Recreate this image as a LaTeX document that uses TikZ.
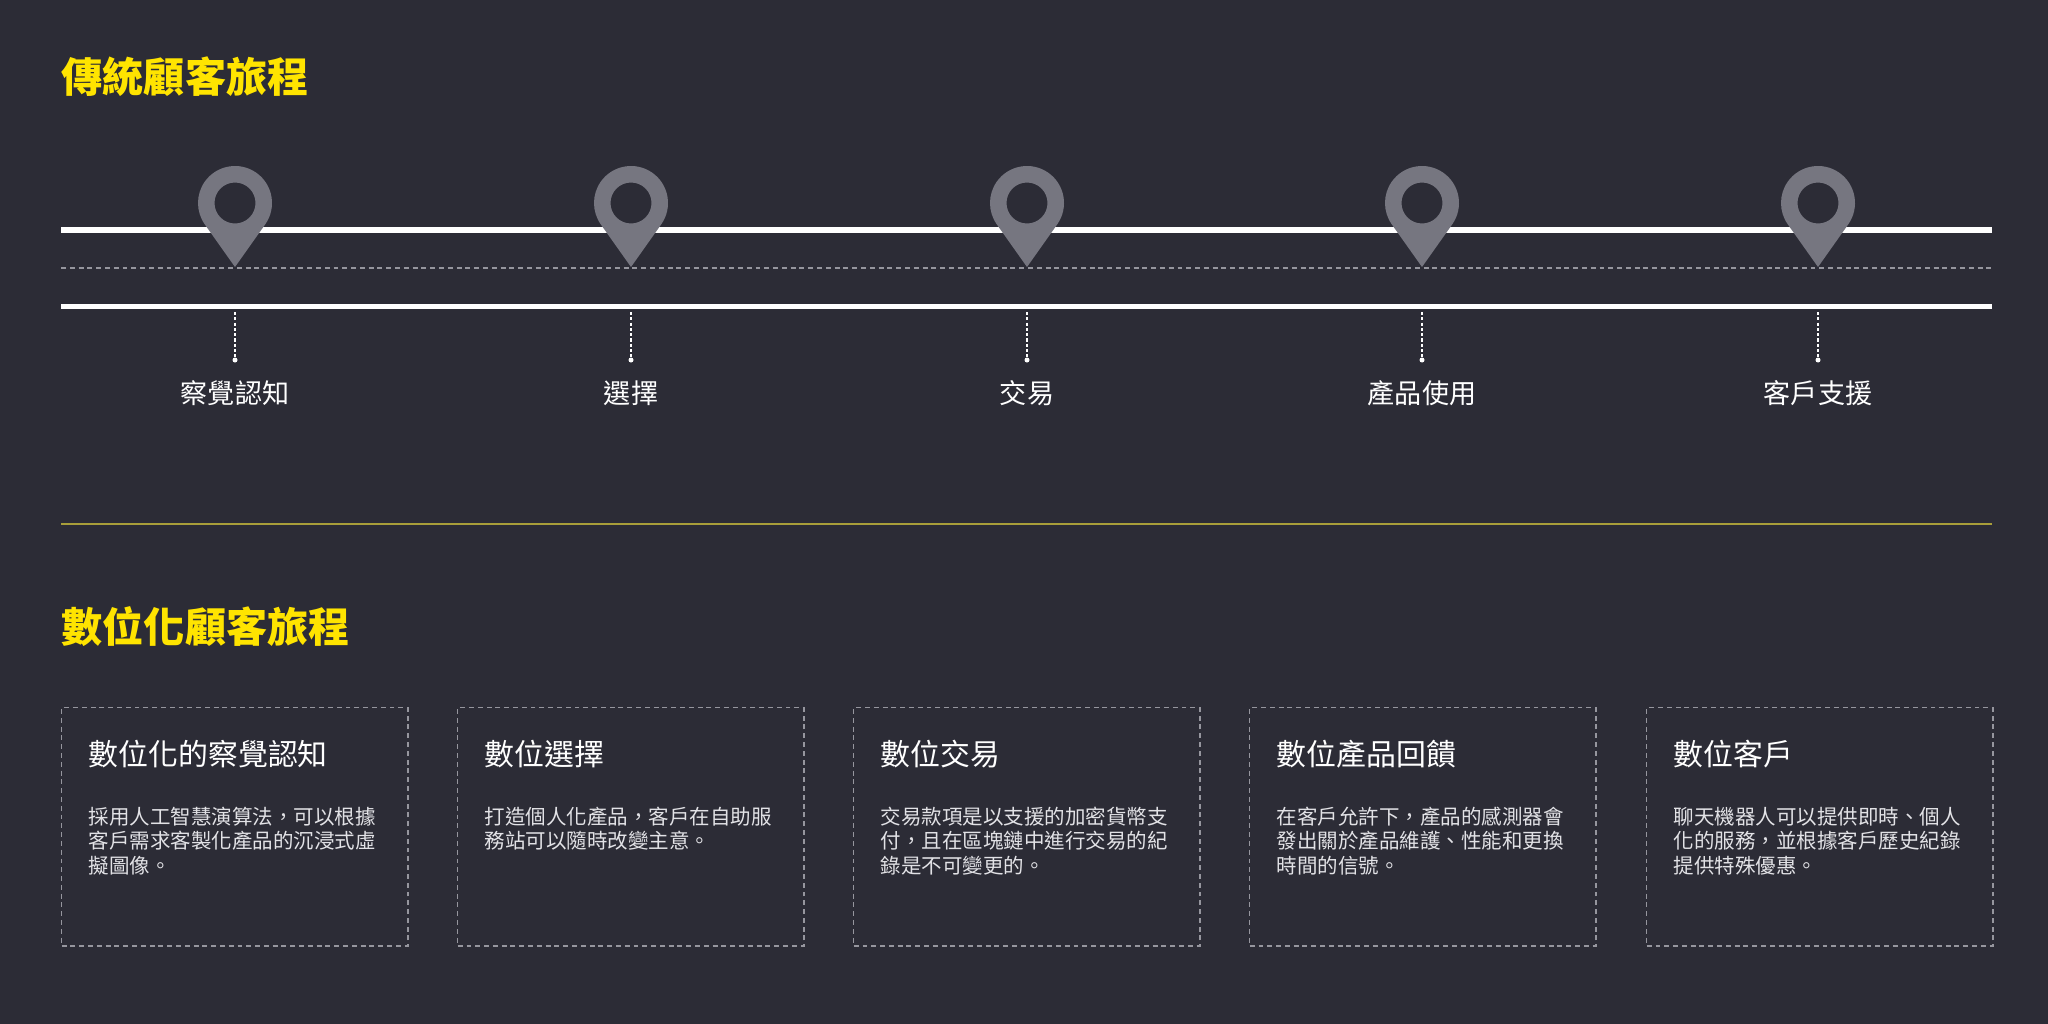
\documentclass[tikz,border=0pt]{standalone}
\usepackage{fontspec}
\setmainfont{Noto Sans CJK TC}
\usetikzlibrary{positioning}

\definecolor{bgdark}{RGB}{44,44,54}
\definecolor{pingray}{RGB}{118,118,128}
\definecolor{titleyellow}{RGB}{255,228,0}
\definecolor{sepolive}{RGB}{168,158,58}
\definecolor{dashgray}{RGB}{150,150,158}
\definecolor{bodygray}{RGB}{226,226,230}

\begin{document}
\begin{tikzpicture}[x=0.01cm, y=-0.01cm,
    title/.style={anchor=base west, inner sep=0pt, text=titleyellow,
      font=\fontsize{11.7}{14}\selectfont\bfseries},
    road/.style={white, line width=1.7pt},
    midline/.style={dashgray, line width=0.45pt, dash pattern=on 1.4pt off 1.1pt},
    stem/.style={white, line width=0.45pt, dash pattern=on 0.9pt off 0.6pt},
    dotmark/.style={circle, fill=white, inner sep=0pt, minimum size=0.05cm},
    stagelabel/.style={anchor=base, inner sep=0pt, text=white,
      font=\fontsize{7.7}{9}\selectfont},
    card/.style={draw=dashgray, line width=0.4pt, dash pattern=on 1.4pt off 1.1pt,
      anchor=north west, inner sep=0pt, minimum width=3.46cm, minimum height=2.38cm},
    cardhead/.style={anchor=base west, inner sep=0pt, text=white,
      font=\fontsize{8.5}{10}\selectfont},
    cardbody/.style={anchor=base west, inner sep=0pt, text=bodygray, align=left,
      text width=3cm, font=\fontsize{5.83}{6.97}\selectfont}]
  % 背景
  \fill[bgdark] (0,0) rectangle (2048,1024);
  \useasboundingbox (0,0) rectangle (2048,1024);

  % 標題
  \node[title] (oldtitle) at (61,92) {傳統顧客旅程};

  % 道路
  \draw[road] (61,230) -- (1992,230);
  \draw[road] (61,306.5) -- (1992,306.5);
  \draw[midline] (61,268) -- (1992,268);

  % 地標與階段
  \foreach \x/\lab/\nm in {235/察覺認知/aware, 631/選擇/choose, 1027/交易/trade,
      1422/產品使用/use, 1818/客戶支援/support} {
    \fill[pingray, even odd rule] (\x,267) -- ([shift={(35.3:37)}]\x,203)
      arc[start angle=35.3, end angle=-215.3, radius=37] -- cycle
      (\x,203) circle (20.5);
    \coordinate (\nm-top) at (\x,312);
    \node[dotmark] (\nm-dot) at (\x,360) {};
    \draw[stem] (\nm-top) -- (\nm-dot);
    \node[stagelabel] (\nm) at (\x,403) {\lab};
  }

  % 分隔線
  \draw[sepolive, line width=0.45pt] (61,524) -- (1992,524);

  % 標題
  \node[title] (newtitle) at (61,642) {數位化顧客旅程};

  % 卡片
  \foreach \x/\head/\body/\nm in {
      61/數位化的察覺認知/{採用人工智慧演算法，可以根據\\客戶需求客製化產品的沉浸式虛\\擬圖像。}/cardaware,
      457/數位選擇/{打造個人化產品，客戶在自助服\\務站可以隨時改變主意。}/cardchoose,
      853/數位交易/{交易款項是以支援的加密貨幣支\\付，且在區塊鏈中進行交易的紀\\錄是不可變更的。}/cardtrade,
      1249/數位產品回饋/{在客戶允許下，產品的感測器會\\發出關於產品維護、性能和更換\\時間的信號。}/carduse,
      1646/數位客戶/{聊天機器人可以提供即時、個人\\化的服務，並根據客戶歷史紀錄\\提供特殊優惠。}/cardsupport} {
    \node[card] (\nm) at (\x,707) {};
    \node[cardhead] (\nm-head) at (\x+27,765) {\head};
    \node[cardbody] (\nm-body) at (\x+27,824) {\body};
  }
\end{tikzpicture}
\end{document}
